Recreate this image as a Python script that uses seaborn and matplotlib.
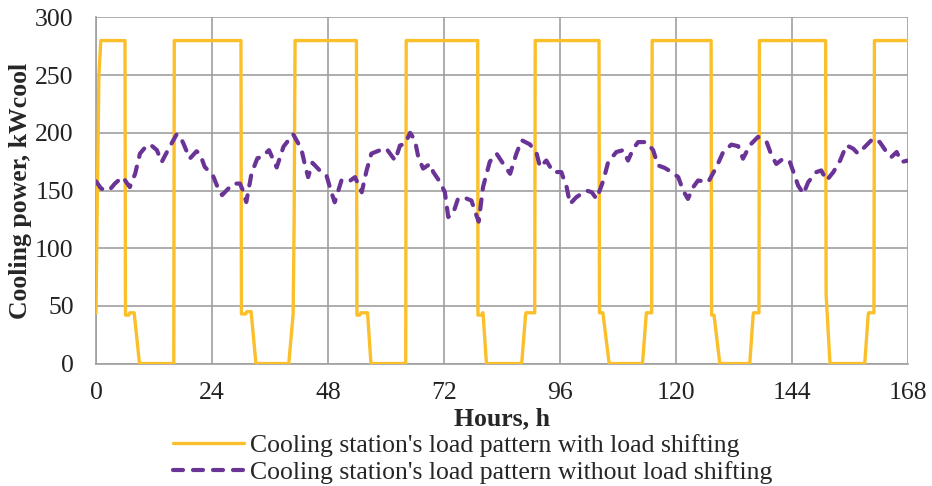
import matplotlib
matplotlib.use("Agg")
import matplotlib.pyplot as plt
import seaborn as sns
import pandas as pd

# Cooling station load with load shifting (hour, kWcool) - breakpoints of the profile
shift_hours = [0, 0.2, 0.6, 1.0,
               6.0, 6.1, 6.8, 7.0, 7.9, 9.0, 16.1, 16.2,
               30.0, 30.1, 31.0, 31.2, 32.1, 33.1, 39.9, 40.8, 41.0, 41.2,
               53.9, 54.0, 54.6, 54.8, 56.2, 56.9, 64.1, 64.2,
               79.0, 79.05, 79.8, 80.0, 80.1, 80.8, 88.1, 88.9, 89.0, 90.8, 90.9,
               104.1, 104.2, 104.9, 106.2, 113.1, 113.9, 115.0, 115.1,
               127.3, 127.4, 127.9, 129.1, 135.3, 136.0, 136.1, 137.2, 137.3,
               151.0, 151.1, 151.9, 159.1, 159.8, 159.9, 161.0, 161.1,
               168.0]
shift_load = [44, 120, 250, 280,
              280, 42, 42, 44, 44, 0, 0, 280,
              280, 43, 43, 45, 45, 0, 0, 43, 120, 280,
              280, 42, 42, 44, 44, 0, 0, 280,
              280, 42, 42, 44, 44, 0, 0, 42, 44, 44, 280,
              280, 44, 44, 0, 0, 44, 44, 280,
              280, 42, 42, 0, 0, 42, 44, 44, 280,
              280, 60, 0, 0, 42, 44, 44, 280,
              280]

# Cooling station load without load shifting (hour, kWcool)
base_hours = [0, 1.0, 1.9, 2.9, 3.9, 5.0, 5.6, 6.3, 7.0, 8.1, 9.1, 10.1, 11.2, 12.6,
              13.6, 15.0, 16.7, 17.4, 18.1, 19.4, 20.8, 21.5, 22.5, 24.2, 25.3, 26.1,
              27.0, 28.4, 29.8, 30.4, 31.1, 32.2, 33.4, 34.3, 35.8, 37.4, 38.8, 40.8,
              42.5, 43.2, 43.9, 44.8, 46.3, 47.7, 48.6, 49.4, 50.8, 52.2, 53.6, 55.0,
              56.0, 57.0, 58.8, 60.1, 61.9, 62.9, 64.0, 65.0, 66.0, 66.7, 67.7, 69.1,
              69.8, 71.2, 72.2, 72.9, 73.9, 74.9, 76.0, 77.7, 78.6, 79.2, 80.1, 81.5,
              82.9, 84.3, 85.7, 87.0, 88.1, 89.8, 91.2, 91.9, 93.2, 94.6, 96.3, 97.4,
              98.1, 99.4, 101.5, 102.6, 103.6, 105.0, 106.0, 107.7, 109.1, 110.1,
              111.2, 112.2, 113.9, 115.3, 116.3, 117.7, 119.1, 120.5, 121.5, 122.5,
              123.6, 124.6, 126.7, 128.4, 129.8, 131.5, 132.9, 133.9, 135.3, 137.0,
              138.8, 139.8, 140.8, 142.2, 143.6, 144.6, 145.3, 146.4, 147.4, 149.1,
              150.1, 151.2, 152.6, 154.0, 155.3, 156.7, 157.7, 159.1, 160.8, 162.2,
              163.6, 164.6, 165.7, 166.7, 168.0]
base_load = [158, 152, 150, 151, 156, 160, 161.6, 157, 153, 164.5, 182, 187, 190, 185,
             174.7, 186, 198.8, 197, 190.7, 177.6, 184, 182, 170.5, 163, 151.5, 146,
             150, 156, 156, 150, 140, 165, 178, 179, 185, 170, 188, 198.8,
             186, 173, 161.6, 174, 167.4, 163, 150, 139.8, 158.7, 157.3, 161.6, 148.5,
             167.4, 182, 185, 186.3, 176, 189, 190.7, 200, 193.6, 179, 169, 173,
             166, 157.3, 148.5, 127, 130, 142.7, 144.2, 141.3, 130, 123, 153, 175,
             182, 173, 164.5, 182, 193.6, 190, 182, 170.3, 176, 166, 166, 153,
             138.4, 144.2, 150, 148.5, 142.7, 158.7, 174.7, 183.4, 185, 176,
             186.3, 192, 192, 185, 171.8, 169.6, 166, 161.6, 150, 142.7,
             153, 158.7, 157.3, 170.3, 183.4, 189.8, 188.4, 177.6, 189.2, 196.5,
             192, 180.5, 173, 177.6, 174.7, 163, 154.4, 147.1, 157.3, 166,
             167.4, 158.7, 166, 176, 189.2, 186.3, 182, 187.8, 195, 192,
             183.4, 179, 183.4, 174.7, 176]

x_ticks = [0, 24, 48, 72, 96, 120, 144, 168]
y_ticks = [0, 50, 100, 150, 200, 250, 300]

label_shift = "Cooling station's load pattern with load shifting"
label_base = "Cooling station's load pattern without load shifting"

FS = 18.5

sns.set_style("white")
plt.rcParams["font.family"] = ["Liberation Serif", "DejaVu Serif"]

fig = plt.figure(figsize=(9.32, 4.86), dpi=100)
ax = fig.add_axes([0.103, 0.252, 0.871, 0.712])

shift_df = pd.DataFrame({"hour": shift_hours, "load": shift_load})
base_df = pd.DataFrame({"hour": base_hours, "load": base_load})

sns.lineplot(data=shift_df, x="hour", y="load", ax=ax, estimator=None, sort=False,
             color="#FBBF2A", linewidth=2.4, label=label_shift, zorder=3)
sns.lineplot(data=base_df, x="hour", y="load", ax=ax, estimator=None, sort=False,
             color="#6A3497", linewidth=3.0, label=label_base, zorder=4,
             dashes=False)
base_line = ax.get_lines()[-1]
base_line.set_linestyle((0, (2.4, 2.4)))
base_line.set_dash_capstyle("round")

ax.set_xlim(0, 168)
ax.set_ylim(0, 300)
ax.set_xticks(x_ticks)
ax.set_yticks(y_ticks)
ax.grid(True, color="#A0A0A0", linewidth=1.2)
ax.set_axisbelow(True)
for side in ["top", "right"]:
    ax.spines[side].set_visible(False)
for side in ["left", "bottom"]:
    ax.spines[side].set_color("#A0A0A0")
    ax.spines[side].set_linewidth(1.2)
ax.tick_params(axis="both", direction="out", length=5, width=1.2, color="#A0A0A0",
               labelsize=FS, labelcolor="#222222")
ax.tick_params(axis="y", pad=11)
ax.tick_params(axis="x", pad=8)

ax.set_xlabel("Hours, h", fontsize=FS, fontweight="bold", labelpad=3)
ax.set_ylabel("Cooling power, kWcool", fontsize=FS, fontweight="bold", labelpad=2)

handles, labels = ax.get_legend_handles_labels()
ax.get_legend().remove()
fig.legend(handles, labels, loc="upper left", bbox_to_anchor=(0.186, 0.106),
           frameon=False, fontsize=FS, handlelength=2.75, handletextpad=0.25,
           labelspacing=0.12, borderaxespad=0, borderpad=0)

fig.savefig("out.png", dpi=100)
